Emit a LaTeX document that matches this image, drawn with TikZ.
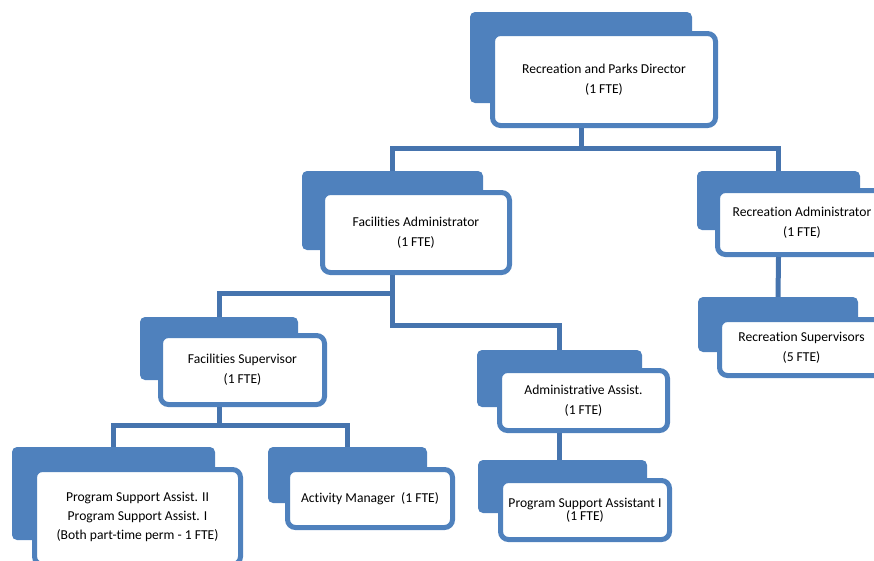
\documentclass[tikz,border=0pt]{standalone}
\usepackage{fontspec}
\setmainfont[Ligatures={NoCommon}]{Carlito}
\usepackage{tikz}
\usetikzlibrary{positioning, calc}
\definecolor{boxblue}{HTML}{4F81BD}
\definecolor{linkblue}{HTML}{4674AE}

\begin{document}
\begin{tikzpicture}[x=1pt, y=-1pt,
        backbox/.style={fill=boxblue, rounded corners=5pt, inner sep=0pt},
        frontbox/.style={draw=boxblue, line width=5pt, fill=white, rounded corners=8pt,
            align=center, inner sep=0pt, font=\fontsize{13.6}{15}\selectfont},
        link/.style={draw=linkblue, line width=5pt}]

        \useasboundingbox (0,0) rectangle (874,560);
        \clip (0,0) rectangle (874,560);

        % director
        \node[backbox, minimum width=222pt, minimum height=91pt] (dir-b) at (581,57.5) {};
        \node[frontbox, minimum width=223pt, minimum height=92pt] (dir) at (604,79.5)
            {Recreation and Parks Director\\[5pt] (1 FTE)};

        % facilities administrator
        \node[backbox, minimum width=181pt, minimum height=79pt] (fa-b) at (392.5,210.5) {};
        \node[frontbox, minimum width=187pt, minimum height=80pt] (fa) at (416,232.5)
            {Facilities Administrator\\[5pt] (1 FTE)};

        % recreation administrator
        \node[backbox, minimum width=163pt, minimum height=59pt] (ra-b) at (778.5,200.5) {};
        \node[frontbox, minimum width=169pt, minimum height=64pt] (ra) at (802,222.5)
            {Recreation Administrator\\[5pt] (1 FTE)};

        % recreation supervisors
        \node[backbox, minimum width=160pt, minimum height=55pt] (rs-b) at (778,324.5) {};
        \node[frontbox, minimum width=164pt, minimum height=56pt] (rs) at (801.5,347.5)
            {Recreation Supervisors\\[5pt] (5 FTE)};

        % facilities supervisor
        \node[backbox, minimum width=158pt, minimum height=63pt] (fs-b) at (219,348.5) {};
        \node[frontbox, minimum width=164pt, minimum height=69pt] (fs) at (242.5,370)
            {Facilities Supervisor\\[5pt] (1 FTE)};

        % program support assistants
        \node[backbox, minimum width=203pt, minimum height=93pt] (psa-b) at (113.5,493.5) {};
        \node[frontbox, minimum width=206pt, minimum height=95pt] (psa) at (137.5,517)
            {Program Support Assist. II\\[4pt] Program Support Assist. I\\[4pt] (Both part-time perm - 1 FTE)};

        % activity manager
        \node[backbox, minimum width=159pt, minimum height=56pt] (am-b) at (347.5,475) {};
        \node[frontbox, minimum width=165pt, minimum height=58pt] (am) at (370,498.5)
            {Activity Manager\ \ (1 FTE)};

        % administrative assist.
        \node[backbox, minimum width=165pt, minimum height=57pt] (aa-b) at (559.5,378.5) {};
        \node[frontbox, minimum width=168pt, minimum height=60pt] (aa) at (583.5,400.5)
            {Administrative Assist.\\[5pt] (1 FTE)};

        % program support assistant I
        \node[backbox, minimum width=169pt, minimum height=53pt] (psi-b) at (562.5,486.5) {};
        \node[frontbox, minimum width=169pt, minimum height=59pt] (psi) at (585,510)
            {Program Support Assistant I\\[-2pt] (1 FTE)};

        % connectors
        \draw[link] (dir-b.center |- dir.south) -- ++(0,20) -| (fa-b.north);
        \draw[link] (dir-b.center |- dir.south) -- ++(0,20) -| (ra-b.north);
        \draw[link] (fa-b.center |- fa.south) -- ++(0,18) -| (fs-b.north);
        \draw[link] (fa-b.center |- fa.south) -- ++(0,50) -| (aa-b.north);
        \draw[link] (fs-b.center |- fs.south) -- ++(0,18) -| (psa-b.north);
        \draw[link] (fs-b.center |- fs.south) -- ++(0,18) -| (am-b.north);
        \draw[link] (ra-b.center |- ra.south) -- (rs-b.north);
        \draw[link] (aa-b.center |- aa.south) -- (aa-b.center |- psi-b.north);

    \end{tikzpicture}
\end{document}
